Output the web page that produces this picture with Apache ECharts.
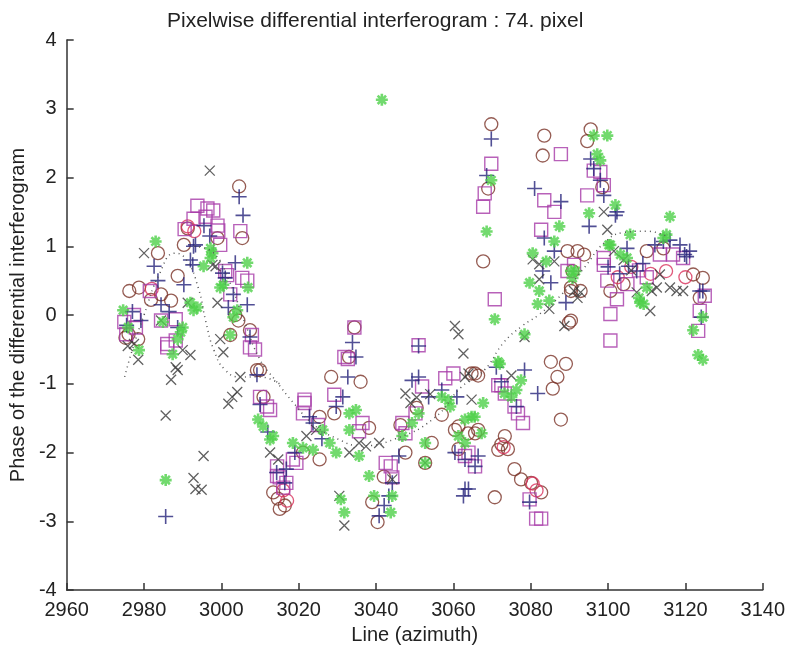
<!DOCTYPE html>
<html>
<head>
<meta charset="utf-8">
<script src="https://cdn.jsdelivr.net/npm/echarts@6/dist/echarts.min.js"></script>
<style>
  html, body { margin: 0; padding: 0; background: #fff; }
  #chart { width: 788px; height: 650px; }
</style>
</head>
<body>
<div id="chart"></div>
<script>
// values, [line, phase]
var xTicks = [2960, 3140, 20];
var yTicks = [-4, 4, 1];

var circles = [
  [2976.2,0.35],[2978.7,0.40],[2981.8,0.22],[2984.4,0.30],[2987,0.21],[2988.7,0.57],[2983.6,0.9],
  [2990.3,1.02],[2991.3,1.26],[2999,1.12],[3004.6,1.87],[3005.4,1.12],[3003.6,0.0],[3004.4,-0.08],
  [3002.3,-0.29],[3007.4,-0.22],[3009.2,-0.8],[2976,-0.28],[2978.5,-0.35],[2975.2,-0.33],
  [3010,-0.8],[3010.9,-1.19],[3013.4,-2.58],[3016.4,-2.77],[3015.1,-2.82],[3014.6,-2.67],[3025.4,-2.1],
  [3028.4,-0.9],[3036,-0.97],[3029.2,-1.43],[3025.4,-1.48],[3039,-2.72],[3040.4,-3.01],[3038.2,-1.64],
  [3046.3,-1.6],[3052.7,-2.15],[3047.6,-2.0],[3060.4,-1.67],[3065.6,-1.72],[3065.6,-0.85],[3054.4,-1.86],
  [3061.3,-1.95],[3034.4,-0.18],[3033,-0.61],[3021.1,-2.0],[3050.5,-1.35],[3057,-1.45],[3042,-2.35],
  [3066.4,-0.88],[3063.8,-1.72],[3066.4,-1.67],[3061.3,-1.62],[3072.4,-1.88],[3074.1,-1.95],[3075.8,-2.24],
  [3089.9,-0.11],[3085.2,-0.68],[3089.1,-0.71],[3086.9,-0.9],[3085.7,-1.07],[3087.8,-1.52],[3073.3,-1.76],
  [3071.6,-1.96],[3077.5,-2.39],[3080.1,-2.44],[3082.7,-2.58],[3070.7,-2.65],[3064.7,-0.85],
  [3069.8,2.775],[3069,1.84],[3067.7,0.78],[3083.5,2.61],[3083.1,2.32],[3090.8,0.64],[3093.8,0.88],
  [3090.4,0.35],[3095.5,2.7],[3094.6,2.53],[3098.5,1.86],
  [3089.5,0.93],[3092.1,0.93],[3090.4,0.4],[3092.9,0.35],[3090.4,-0.08],[3100.6,0.35],[3104,0.45],
  [3110,0.93],[3122,0.59],[3124.5,0.54],[3123.7,0.25],[3114.3,0.97]
];

var redCircles = [
  [2982,0.38],[2991.3,1.29],[2993,1.22],[3016,-2.55],[3017,-2.7],
  [3080.5,-2.45],[3081.5,-2.55],[3073,-1.92],[3102.5,0.55],
  [3106,0.7],[3111,0.6],[3115,0.64],[3120,0.55]
];

var pluses = [
  [2982.6,0.71],[2983.6,0.5],[2979.2,-0.08],[2984.4,0.15],[2988.7,-0.18],[2992.6,0.73],[2993.3,1.02],
  [2990.3,0.44],[2985.6,-2.93],[2992.8,1.0],[2992,0.8],[2975.5,-0.15],[2977,0.05],[2986.5,0.05],
  [2995.5,1.3],[2997,1.15],
  [3004.6,1.72],[3005.6,1.45],[3003.6,0.76],[3006.7,0.15],[3000.3,0.61],[3001,0.54],[3003.1,0.30],
  [3001.8,0.11],[3007.4,-0.32],[3009.2,-0.87],[3010,-1.3],
  [3033.9,-0.4],[3034.8,-0.61],[3032.7,-0.9],[3031.4,-1.19],[3029.7,-1.33],[3022.8,-1.48],[3023.7,-1.57],
  [3016.8,-2.24],[3016.4,-2.44],[3014.3,-2.29],[3051,-0.9],[3049.3,-0.95],[3053.6,-1.19],[3057,-1.09],
  [3060.9,-1.19],[3063,-2.1],[3063,-2.53],[3062.6,-2.63],[3042.1,-2.77],[3043.3,-2.63],[3040.8,-2.92],
  [3044.2,-2.44],[3045.9,-2.05],[3012,-1.7],[3019,-2.0],[3026,-1.8],
  [3071.1,-0.76],[3072.4,-0.97],[3060.4,-2.0],[3065.6,-2.2],[3078.4,-0.8],[3081.8,-1.14],
  [3076.3,-1.33],[3066.4,-2.05],[3063.9,-2.53],[3079.7,-2.72],[3051,-0.45],
  [3069.8,2.56],[3068.6,2.03],[3081,1.84],[3087.8,1.65],[3083.5,1.12],[3086.1,0.93],[3083.1,0.64],
  [3085.2,0.47],[3089.1,0.18],[3095.5,2.27],[3096.3,2.13],[3098,1.96],[3098.9,1.74],[3102.3,1.5],
  [3095.1,1.29],
  [3104.9,0.97],[3105.3,0.71],[3107.4,0.64],[3112.1,1.02],[3114.3,1.07],[3116,1.09],[3118.6,1.02],
  [3119.8,0.88],[3121.1,0.93],[3120.3,0.85],[3123.7,0.35],[3124.5,0.35],[3124.1,-0.03],[3101.9,1.45],
  [3100,0.7],[3103,0.6],[3109,0.75]
];

var crosses = [
  [2980,0.9],[2991.3,0.18],[2999,0.18],[2984.4,-0.08],[2997,2.1],[2978.5,-0.65],[2977.4,-0.42],
  [2988.2,-0.76],[2988.7,-0.8],[2987,-0.94],[2990,-0.51],[2992,-0.58],[2999.7,-0.35],[3000.5,-0.54],
  [3004.9,-0.9],[3004.1,-1.12],[3002.8,-1.19],[3001.8,-1.29],[2985.6,-1.46],[2995.4,-2.05],
  [2992.8,-2.37],[2993.3,-2.53],[2994.9,-2.54],[2997.7,0.73],[2998.5,0.71],[2975.8,-0.45],
  [3060.4,-0.16],[3061.3,-0.28],[3062.6,-0.56],[3063.9,-0.85],[3064.7,-1.23],[3047.6,-1.14],
  [3048.9,-1.28],[3035.6,-1.86],[3037.4,-1.91],[3040.8,-1.86],[3033.1,-2.0],[3030.5,-2.63],
  [3031.8,-3.06],[3012.6,-2.0],[3014.7,-2.1],[3022,-1.76],[3024.5,-1.67],[3052.7,-2.15],[3044.2,-2.39],
  [3050.5,-1.2],[3054,-1.15],
  [3075,-0.88],[3063,-0.9],[3088.7,-0.16],
  [3080.5,0.81],[3082.2,0.74],[3086.1,0.78],[3082.2,0.52],[3091.2,0.35],[3092.9,0.33],[3084.8,0.09],
  [3078.4,-0.32],[3098.9,1.5],[3099.8,1.24],
  [3101.5,0.93],[3092.1,0.25],[3107.4,0.33],[3110.9,0.06],[3113.4,0.59],[3116,0.4],[3117.7,0.35],
  [3119.4,0.35],[3112.6,0.4],[3111.3,0.35],[3104,0.8],[3106,0.65]
];

var squares = [
  [2974.9,-0.1],[2977.4,0.0],[2977.9,-0.18],[2984.4,-0.08],[2988.2,-0.06],[2986,-0.42],[2975.4,-0.28],
  [2986,-0.47],[2988.2,-0.37],
  [2993.8,1.59],[2996.4,1.55],[2997.9,1.52],[2995.9,1.43],[2992.8,1.40],[2999,1.30],[2999.2,1.23],
  [2999.7,1.02],[3004.9,1.22],[3005.4,0.54],[3006.7,0.50],[3001,0.64],[3001.5,0.58],[3002.3,0.30],
  [3007.9,-0.29],[3007.4,-0.47],[3008.7,-0.5],[2990.5,1.25],[2981.5,0.35],
  [3010,-1.19],[3011.8,-1.33],[3014.4,-2.34],[3014.4,-2.2],[3021.5,-1.23],[3034.4,-0.18],[3031.8,-0.61],
  [3032.7,-0.64],[3029.2,-1.16],[3021.5,-1.28],[3021.1,-1.43],[3051,-0.44],[3060,-0.85],[3057.9,-0.92],
  [3051.9,-1.04],[3050.2,-1.43],[3047.6,-1.72],[3046.8,-1.57],[3036.5,-1.57],[3042.5,-2.15],
  [3043.8,-2.2],[3044.2,-2.36],[3015.1,-2.36],[3016,-2.51],[3016.8,-2.44],[3018.5,-2.1],[3019.4,-2.15],
  [3012.6,-1.38],[3035.6,-1.69],[3065.6,-2.2],[3063,-2.05],[3025,-1.6],
  [3070.7,0.23],[3072.4,-1.02],[3075.8,-1.33],[3081.4,-2.96],[3082.7,-2.96],[3079.7,-2.68],
  [3078,-1.57],[3076.7,-1.43],[3071.6,-1.02],[3073.3,-1.14],[3063.9,-2.0],
  [3069.8,2.2],[3068.1,1.77],[3067.7,1.575],[3087.8,2.34],[3083.5,1.67],[3086.1,1.50],[3082.7,1.24],
  [3089.5,0.64],[3096.3,2.1],[3098,2.08],[3098.9,1.89],[3094.6,1.74],[3100.6,0.015],[3100.6,-0.37],
  [3091.2,0.73],[3098.9,0.73],[3099.8,0.5],[3102.3,0.23],[3113.4,0.88],[3116.8,0.88],[3119.4,0.83],
  [3125,0.28],[3123.7,0.06],[3123.3,-0.23],[3098.9,0.83],[3105,0.45],[3108,0.65],[3110,0.55]
];

var stars = [
  [2974.6,0.07],[2975.9,-0.18],[2983,1.07],[2984.9,-0.1],[2992,0.18],[2993.8,0.11],[2995.4,0.71],
  [2997.2,0.83],[2989.5,-0.25],[2978.7,-0.51],[2987.4,-0.57],[2988.7,-0.35],[2985.6,-2.4],[2997.2,0.97],
  [2997.7,0.90],[3006.7,0.76],[3006.9,0.40],[3000.5,0.44],[3004.1,0.07],[3003.1,-0.03],[2992.8,0.07],
  [3002.3,-0.29],[2990,-0.18],[2999.7,0.40],
  [3009.5,-1.52],[3010.8,-1.62],[3012.6,-1.81],[3034.8,-1.38],[3033.1,-1.67],[3035.6,-2.05],
  [3038.2,-2.34],[3039.5,-2.63],[3044.2,-2.63],[3043.8,-2.87],[3030.9,-2.68],[3031.8,-2.87],
  [3013.4,-1.76],[3018.5,-1.86],[3021.1,-1.93],[3023.7,-1.96],[3026.2,-1.67],[3028,-1.86],[3029.7,-2.0],
  [3033.1,-1.43],[3046.8,-1.76],[3049.3,-1.57],[3052.7,-1.86],[3057,-1.19],[3059.2,-1.33],[3063,-1.52],
  [3064.7,-1.48],[3061.3,-1.76],[3063,-1.86],[3052.7,-2.15],[3041.5,3.13],
  [3070.7,-0.06],[3072,-0.71],[3073.2,-1.14],[3075,-1.19],[3067.7,-1.28],[3065.5,-1.48],[3067.3,-1.72],
  [3051,-1.43],[3058.7,-1.24],[3078.4,-0.28],[3071.6,-0.68],[3077.5,-0.95],[3076.3,-1.09],
  [3069.8,1.96],[3068.6,1.215],[3087.4,1.29],[3086.1,1.07],[3080.5,0.9],[3084,0.78],[3079.7,0.47],
  [3082.2,0.35],[3081.8,0.16],[3084.8,0.21],[3090.8,0.54],[3091.6,0.64],[3096.3,2.61],[3099.8,2.61],
  [3097.2,2.34],[3098,2.25],[3101.9,1.6],[3095.1,1.48],[3100.6,1.02],[3105.7,1.17],
  [3116,1.43],[3103.2,0.88],[3104.9,0.83],[3114.3,1.12],[3115.1,1.17],[3110,0.4],[3109.2,0.16],
  [3108.3,0.18],[3122,-0.22],[3124.5,-0.03],[3123.3,-0.58],[3124.5,-0.65],[3090.4,0.64],[3108,0.25],
  [3100.2,1.02]
];

// the two dotted model curves
var modelA = [
  [2975,-0.9],[2977,-0.5],[2980,0.0],[2984,0.6],[2988,0.9],[2991,0.8],[2994,0.4],[2996,-0.1],
  [2998,-0.5],[3001,-0.8],[3005,-0.9],[3010,-0.9],[3015,-1.0]
];
var modelB = [
  [2993,1.0],[2998,0.9],[3002,0.5],[3006,-0.1],[3010,-0.65],[3014,-0.95],[3019,-1.3],[3024,-1.6],
  [3030,-1.8],[3036,-1.9],[3045,-1.8],[3055,-1.5],[3062,-1.05],[3068,-0.8],[3073,-0.4],[3078,-0.15],
  [3082,0.0],[3088,0.3],[3094,0.7],[3099,1.05],[3104,1.2],[3110,1.22],[3115,1.15]
];

var chart = echarts.init(document.getElementById('chart'));

function hollow(c, w) {
  return { color: 'transparent', borderColor: c, borderWidth: w };
}

var PLUS = 'path://M5,0L5,10M0,5L10,5';
var CROSS = 'path://M0,0L10,10M10,0L0,10';
var STAR = 'path://M5,0L5,10M0,5L10,5M1.5,1.5L8.5,8.5M8.5,1.5L1.5,8.5';

var axisText = { fontFamily: 'Liberation Sans', fontSize: 20, color: '#222' };
var tickText = {
  fontFamily: 'Liberation Sans', fontSize: 20, color: '#222', margin: 10,
  formatter: function (v) { return String(v); }
};

chart.setOption({
  animation: false,
  title: {
    text: 'Pixelwise differential interferogram : 74. pixel',
    left: 162, top: 6,
    textStyle: { fontFamily: 'Liberation Sans', fontSize: 21, fontWeight: 'normal', color: '#222' }
  },
  grid: { left: 65, right: 21, top: 40, bottom: 55 },
  xAxis: {
    type: 'value', min: xTicks[0], max: xTicks[1], interval: xTicks[2],
    name: 'Line (azimuth)', nameLocation: 'middle', nameGap: 30,
    nameTextStyle: axisText,
    axisLine: { onZero: false, lineStyle: { color: '#333', width: 1.5 } },
    axisTick: { inside: true, length: 7, lineStyle: { color: '#333', width: 1.5 } },
    axisLabel: tickText,
    splitLine: { show: false }
  },
  yAxis: {
    type: 'value', min: yTicks[0], max: yTicks[1], interval: yTicks[2],
    name: 'Phase of the differential interferogram', nameLocation: 'middle', nameGap: 33,
    nameTextStyle: axisText,
    axisLine: { show: true, onZero: false, lineStyle: { color: '#333', width: 1.5 } },
    axisTick: { show: true, inside: true, length: 7, lineStyle: { color: '#333', width: 1.5 } },
    axisLabel: tickText,
    splitLine: { show: false }
  },
  series: [
    { type: 'line', data: modelA, smooth: true, showSymbol: false, silent: true,
      lineStyle: { color: '#555', width: 1.5, type: [1, 4] } },
    { type: 'line', data: modelB, smooth: true, showSymbol: false, silent: true,
      lineStyle: { color: '#555', width: 1.5, type: [1, 4] } },
    { type: 'scatter', data: circles, symbol: 'circle', symbolSize: 13, itemStyle: hollow('#7b3328', 1.3) },
    { type: 'scatter', data: redCircles, symbol: 'circle', symbolSize: 13, itemStyle: hollow('#d8305a', 1.3) },
    { type: 'scatter', data: squares, symbol: 'rect', symbolSize: 13, itemStyle: hollow('#a63aa8', 1.4) },
    { type: 'scatter', data: pluses, symbol: PLUS, symbolSize: 15, itemStyle: hollow('#25237a', 1.6) },
    { type: 'scatter', data: crosses, symbol: CROSS, symbolSize: 10, itemStyle: hollow('#3a3a3a', 1.3) },
    { type: 'scatter', data: stars, symbol: STAR, symbolSize: 12, itemStyle: hollow('#4fd14a', 2.6) }
  ]
});
</script>
</body>
</html>
